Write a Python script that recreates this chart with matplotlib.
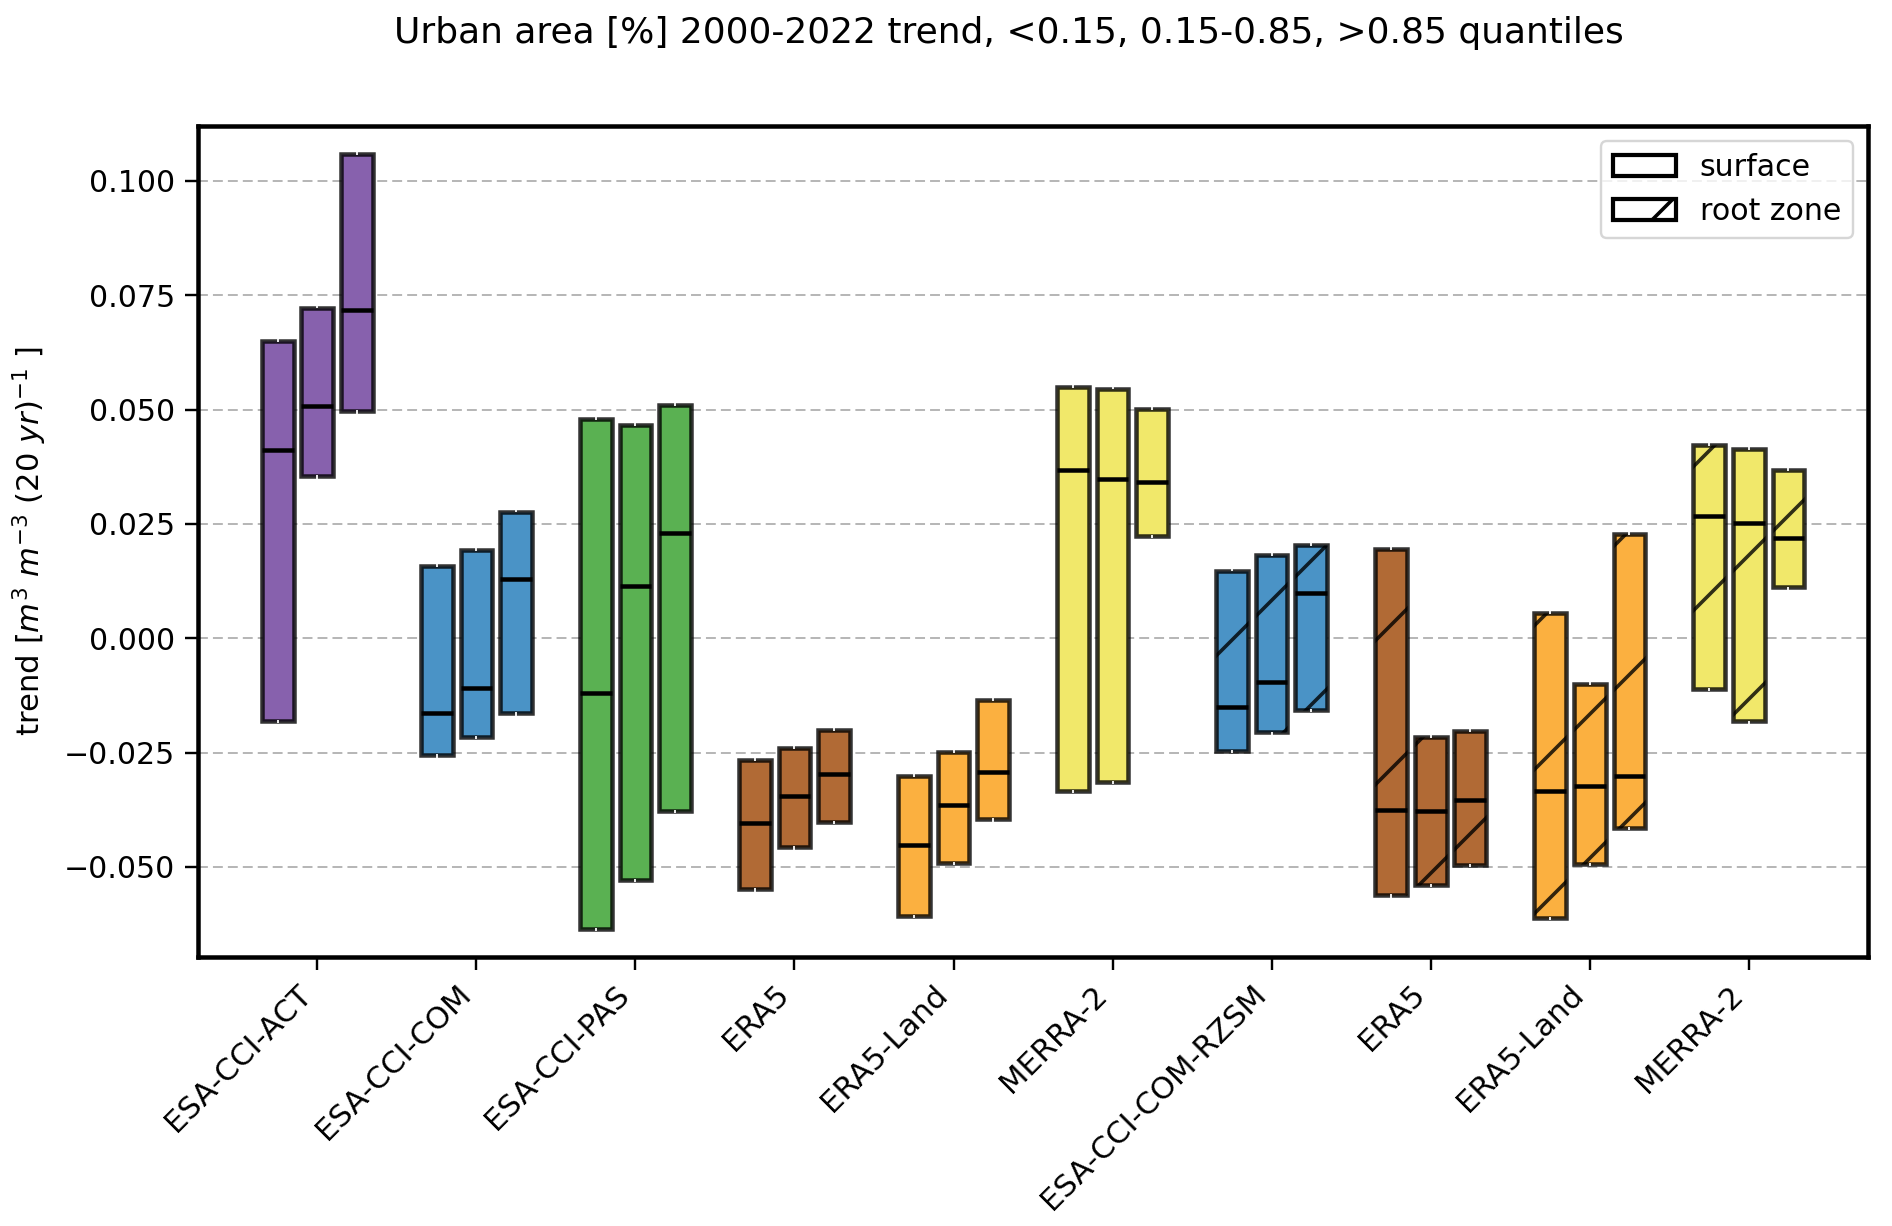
import numpy as np
import matplotlib
matplotlib.use("Agg")
import matplotlib.pyplot as plt
from matplotlib.patches import Patch

# products on the x axis
products = ["ESA-CCI-ACT", "ESA-CCI-COM", "ESA-CCI-PAS", "ERA5", "ERA5-Land",
            "MERRA-2", "ESA-CCI-COM-RZSM", "ERA5", "ERA5-Land", "MERRA-2"]
root_zone = [False] * 6 + [True] * 4
colors = ["#8761ad", "#4a93c6", "#5ab152", "#b16a35", "#fbb040",
          "#f1e86a", "#4a93c6", "#b16a35", "#fbb040", "#f1e86a"]

# box bottom / top / median for the three urban quantile classes (<0.15, 0.15-0.85, >0.85)
lower = [[-0.0180, 0.0354, 0.0496],
         [-0.0256, -0.0216, -0.0164],
         [-0.0636, -0.0528, -0.0378],
         [-0.0549, -0.0457, -0.0401],
         [-0.0607, -0.0491, -0.0396],
         [-0.0333, -0.0314, 0.0224],
         [-0.0246, -0.0206, -0.0156],
         [-0.0562, -0.0539, -0.0496],
         [-0.0612, -0.0494, -0.0414],
         [-0.0111, -0.0182, 0.0111]]
upper = [[0.0650, 0.0723, 0.1059],
         [0.0158, 0.0193, 0.0277],
         [0.0480, 0.0467, 0.0510],
         [-0.0267, -0.0240, -0.0201],
         [-0.0301, -0.0248, -0.0135],
         [0.0549, 0.0546, 0.0502],
         [0.0148, 0.0182, 0.0203],
         [0.0195, -0.0216, -0.0203],
         [0.0055, -0.0100, 0.0227],
         [0.0422, 0.0414, 0.0367]]
median = [[0.0412, 0.0507, 0.0718],
          [-0.0164, -0.0108, 0.0129],
          [-0.0119, 0.0114, 0.0230],
          [-0.0404, -0.0346, -0.0296],
          [-0.0451, -0.0364, -0.0293],
          [0.0367, 0.0348, 0.0341],
          [-0.0150, -0.0095, 0.0100],
          [-0.0375, -0.0378, -0.0354],
          [-0.0335, -0.0322, -0.0301],
          [0.0267, 0.0253, 0.0219]]

offsets = [-0.25, 0.0, 0.25]
width = 0.2

plt.rcParams['hatch.linewidth'] = 0.6
plt.rcParams['font.size'] = 5.0

DPI = 432
fig = plt.figure(figsize=(1892 / DPI, 1226 / DPI), dpi=DPI)
ax = fig.add_axes([0.1047, 0.2194, 0.8826, 0.6782])

edge = (0, 0, 0, 0.8)
for i in range(len(products)):
    pos = i + 1 + np.array(offsets)
    lo = np.array(lower[i])
    hi = np.array(upper[i])
    ax.bar(pos, hi - lo, bottom=lo, width=width, color=colors[i],
           edgecolor=edge, linewidth=0.75, hatch='/' if root_zone[i] else None,
           zorder=3)
    ax.hlines(median[i], pos - width / 2, pos + width / 2, color='black',
              linewidth=0.75, zorder=4)
    # little whisker marks at the box ends
    ax.vlines(pos, hi - 0.0002, hi + 0.0005, color='white', linewidth=0.3, zorder=5)
    ax.vlines(pos, lo - 0.0005, lo + 0.0002, color='white', linewidth=0.3, zorder=5)

ax.set_xlim(0.25, 10.75)
ax.set_ylim(-0.0697, 0.1121)
ax.set_yticks([-0.05, -0.025, 0.0, 0.025, 0.05, 0.075, 0.1])
ax.set_xticks(np.arange(1, len(products) + 1))
ax.set_xticklabels(products, rotation=45, ha='right', fontsize=5.1)
ax.grid(axis='y', color='#b0b0b0', linewidth=0.3, linestyle=(0, (5.5, 2.8)), zorder=0)
ax.tick_params(length=2.2, width=0.4, pad=1.6)
for sp in ax.spines.values():
    sp.set_linewidth(0.75)

ax.set_ylabel(r'trend [$m^3$ $m^{-3}$ (20 $yr)^{-1}$ ]', labelpad=2.5, fontsize=5.1)

handles = [Patch(facecolor='white', edgecolor='black', linewidth=0.7, label='surface'),
           Patch(facecolor='white', edgecolor='black', linewidth=0.7, hatch='/', label='root zone')]
leg = ax.legend(handles=handles, loc='upper right', handlelength=2.1)
leg.get_frame().set_linewidth(0.4)

fig.text(0.533, 0.973, 'Urban area [%] 2000-2022 trend, <0.15, 0.15-0.85, >0.85 quantiles',
         ha='center', va='center', fontsize=6.0)

fig.savefig('out.png', dpi=DPI)
